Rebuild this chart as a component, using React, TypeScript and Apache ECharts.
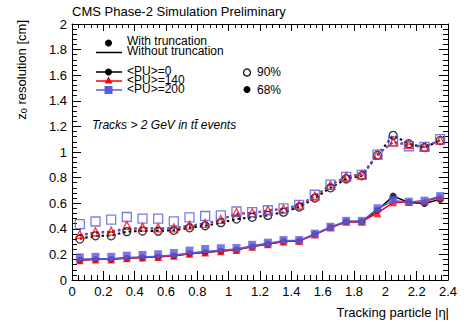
import React, { useEffect, useRef } from "react";
import * as echarts from "echarts";

// |eta| bin centres
const eta = [0.05, 0.15, 0.25, 0.35, 0.45, 0.55, 0.65, 0.75, 0.85, 0.95, 1.05, 1.15, 1.25, 1.35, 1.45, 1.55, 1.65, 1.75, 1.85, 1.95, 2.05, 2.15, 2.25, 2.35];

// With truncation (markers)
const pu0_90 = [0.32, 0.345, 0.345, 0.378, 0.383, 0.382, 0.388, 0.408, 0.424, 0.448, 0.476, 0.49, 0.505, 0.53, 0.57, 0.64, 0.72, 0.79, 0.815, 0.975, 1.13, 1.065, 1.035, 1.09];
const pu140_90 = [0.356, 0.377, 0.382, 0.427, 0.413, 0.408, 0.407, 0.428, 0.442, 0.473, 0.527, 0.526, 0.545, 0.555, 0.585, 0.655, 0.74, 0.81, 0.825, 0.98, 1.077, 1.06, 1.04, 1.092];
const pu200_90 = [0.437, 0.457, 0.472, 0.492, 0.48, 0.48, 0.458, 0.49, 0.5, 0.505, 0.535, 0.53, 0.545, 0.56, 0.587, 0.666, 0.745, 0.805, 0.822, 0.98, 1.085, 1.045, 1.04, 1.1];
const pu0_68 = [0.155, 0.16, 0.16, 0.17, 0.175, 0.18, 0.19, 0.205, 0.215, 0.225, 0.235, 0.26, 0.28, 0.3, 0.305, 0.355, 0.41, 0.455, 0.455, 0.545, 0.655, 0.605, 0.597, 0.63];
const pu140_68 = [0.155, 0.16, 0.16, 0.17, 0.175, 0.18, 0.19, 0.205, 0.215, 0.225, 0.235, 0.26, 0.28, 0.3, 0.305, 0.355, 0.41, 0.455, 0.455, 0.522, 0.607, 0.61, 0.615, 0.645];
const pu200_68 = [0.176, 0.181, 0.181, 0.19, 0.196, 0.201, 0.211, 0.23, 0.242, 0.248, 0.25, 0.275, 0.292, 0.312, 0.312, 0.362, 0.416, 0.462, 0.462, 0.56, 0.625, 0.612, 0.62, 0.655];

// Without truncation (lines)
const pu0_90_noTrunc = [0.322, 0.345, 0.347, 0.378, 0.383, 0.383, 0.388, 0.408, 0.424, 0.448, 0.476, 0.49, 0.505, 0.53, 0.57, 0.64, 0.72, 0.79, 0.815, 0.975, 1.13, 1.065, 1.035, 1.09];
const pu140_90_noTrunc = [0.352, 0.372, 0.378, 0.405, 0.405, 0.403, 0.404, 0.425, 0.44, 0.47, 0.52, 0.524, 0.543, 0.555, 0.585, 0.655, 0.74, 0.81, 0.825, 0.98, 1.077, 1.06, 1.04, 1.09];
const pu200_90_noTrunc = [0.345, 0.368, 0.372, 0.4, 0.402, 0.402, 0.403, 0.425, 0.44, 0.47, 0.515, 0.522, 0.542, 0.556, 0.585, 0.658, 0.742, 0.806, 0.822, 0.98, 1.08, 1.05, 1.04, 1.095];
const pu0_68_noTrunc = [0.157, 0.162, 0.162, 0.171, 0.176, 0.181, 0.19, 0.206, 0.216, 0.226, 0.237, 0.262, 0.282, 0.3, 0.306, 0.356, 0.41, 0.455, 0.456, 0.545, 0.655, 0.605, 0.597, 0.63];
const pu140_68_noTrunc = [0.157, 0.162, 0.162, 0.171, 0.176, 0.181, 0.19, 0.206, 0.216, 0.226, 0.237, 0.262, 0.282, 0.3, 0.306, 0.356, 0.41, 0.455, 0.456, 0.525, 0.605, 0.61, 0.615, 0.645];
const pu200_68_noTrunc = [0.162, 0.166, 0.166, 0.175, 0.18, 0.185, 0.195, 0.21, 0.222, 0.232, 0.242, 0.268, 0.288, 0.307, 0.31, 0.36, 0.414, 0.46, 0.46, 0.555, 0.62, 0.61, 0.62, 0.655];

// Legend labels
const truncLabels = ["With truncation", "Without truncation"];
const puLabels = ["<PU>=0", "<PU>=140", "<PU>=200"];
const quantileLabels = ["90%", "68%"];

const BLACK = "#000000";
const RED = "#ff0000";
const BLUE = "#5a5ade";
const FONT = "Liberation Sans";

const pts = (ys: number[]) => eta.map((x, i) => [x, ys[i]]);

function markerSeries(name: string, ys: number[], symbol: string, size: number, color: string, open: boolean, z: number) {
  return {
    name,
    type: "scatter",
    data: pts(ys),
    symbol,
    symbolSize: size,
    z,
    itemStyle: open
      ? { color: "rgba(0,0,0,0)", borderColor: color, borderWidth: 1.3 }
      : { color, borderWidth: 0 },
  };
}

function lineSeries(name: string, ys: number[], color: string, dotted: boolean, z: number) {
  return {
    name,
    type: "line",
    data: pts(ys),
    symbol: "none",
    z,
    lineStyle: dotted ? { color, width: 2, type: [2.5, 3] } : { color, width: 1.5, type: "solid" },
  };
}

function axisCommon(showLabel: boolean, major: number, minor: number) {
  return {
    axisLine: { show: true, onZero: false, lineStyle: { color: BLACK, width: 1 } },
    axisTick: { show: true, inside: true, length: major, lineStyle: { color: BLACK, width: 1 } },
    minorTick: { show: true, splitNumber: 5, length: minor, lineStyle: { color: BLACK, width: 1 } },
    splitLine: { show: false },
    minorSplitLine: { show: false },
    axisLabel: { show: showLabel, color: BLACK, fontSize: 13, fontFamily: FONT },
  };
}

const blockText = (x: number, y: number, lines: string[], lineHeight: number) => ({
  type: "text",
  x,
  y,
  style: { text: lines.join("\n"), font: `12px "${FONT}"`, fill: BLACK, verticalAlign: "middle", lineHeight },
});

export default function App() {
  const ref = useRef<HTMLDivElement>(null);
  useEffect(() => {
    if (!ref.current) return;
    const chart = echarts.init(ref.current, undefined, { renderer: "svg" });
    const xBase = { type: "value", min: 0, max: 2.4, interval: 0.2 };
    const yBase = { type: "value", min: 0, max: 2, interval: 0.2 };
    const bottomX: any = { ...xBase, position: "bottom", ...axisCommon(true, 9, 5) };
    bottomX.axisLabel = { ...bottomX.axisLabel, margin: 5 };
    const leftY: any = { ...yBase, position: "left", ...axisCommon(true, 9, 5) };
    leftY.axisLabel = { ...leftY.axisLabel, margin: 5 };
    const option: any = {
      animation: false,
      backgroundColor: "#ffffff",
      grid: { left: 72, top: 24, width: 376, height: 256, containLabel: false },
      xAxis: [bottomX, { ...xBase, position: "top", ...axisCommon(false, 7, 4) }],
      yAxis: [leftY, { ...yBase, position: "right", ...axisCommon(false, 9, 5) }],
      series: [
        lineSeries("PU0 90% no trunc", pu0_90_noTrunc, BLACK, true, 2),
        lineSeries("PU140 90% no trunc", pu140_90_noTrunc, RED, true, 2),
        lineSeries("PU200 90% no trunc", pu200_90_noTrunc, BLUE, true, 2),
        lineSeries("PU0 68% no trunc", pu0_68_noTrunc, BLACK, false, 2),
        lineSeries("PU140 68% no trunc", pu140_68_noTrunc, RED, false, 2),
        lineSeries("PU200 68% no trunc", pu200_68_noTrunc, BLUE, false, 2),
        markerSeries("PU0 90%", pu0_90, "circle", 8, BLACK, true, 3),
        markerSeries("PU140 90%", pu140_90, "triangle", 8, RED, true, 3),
        markerSeries("PU200 90%", pu200_90, "rect", 9, BLUE, true, 3),
        markerSeries("PU0 68%", pu0_68, "circle", 7, BLACK, false, 3),
        markerSeries("PU140 68%", pu140_68, "triangle", 8, RED, false, 3),
        markerSeries("PU200 68%", pu200_68, "rect", 8, BLUE, false, 3),
      ],
      graphic: [
        { type: "text", x: 72, y: 11, style: { text: "CMS Phase-2 Simulation Preliminary", font: `13px "${FONT}"`, fill: BLACK, verticalAlign: "middle" } },
        { type: "text", x: 449, y: 312, style: { text: "Tracking particle |η|", font: `13px "${FONT}"`, fill: BLACK, align: "right", verticalAlign: "middle" } },
        {
          type: "text", x: 21, y: 20, rotation: Math.PI / 2,
          style: {
            text: "{a|z}{s|0}{a| resolution [cm]}",
            align: "right", verticalAlign: "middle", fill: BLACK,
            rich: {
              a: { fontSize: 13, fontFamily: FONT, fill: BLACK, lineHeight: 16 },
              s: { fontSize: 9, fontFamily: FONT, fill: BLACK, padding: [6, 0, 0, 0], lineHeight: 16 },
            },
          },
        },
        // legend: truncation
        { type: "circle", shape: { cx: 108.5, cy: 43, r: 3.5 }, style: { fill: BLACK } },
        { type: "line", shape: { x1: 96, y1: 52.5, x2: 122, y2: 52.5 }, style: { stroke: BLACK, lineWidth: 1.5 } },
        blockText(127, 46, truncLabels, 10),
        // legend: PU
        { type: "line", shape: { x1: 96, y1: 72, x2: 122, y2: 72 }, style: { stroke: BLACK, lineWidth: 1.5 } },
        { type: "circle", shape: { cx: 108.5, cy: 72, r: 3.5 }, style: { fill: BLACK } },
        { type: "line", shape: { x1: 96, y1: 81, x2: 122, y2: 81 }, style: { stroke: RED, lineWidth: 1.5 } },
        { type: "polygon", shape: { points: [[108.5, 76.5], [112.5, 83.5], [104.5, 83.5]] }, style: { fill: RED } },
        { type: "line", shape: { x1: 96, y1: 90, x2: 122, y2: 90 }, style: { stroke: BLUE, lineWidth: 1.5 } },
        { type: "rect", shape: { x: 104.5, y: 86, width: 8, height: 8 }, style: { fill: BLUE } },
        blockText(127, 80.2, puLabels, 9.2),
        // legend: quantiles
        { type: "circle", shape: { cx: 247, cy: 72.5, r: 3.5 }, style: { fill: "rgba(0,0,0,0)", stroke: BLACK, lineWidth: 1.2 } },
        { type: "circle", shape: { cx: 247, cy: 89.5, r: 3.5 }, style: { fill: BLACK } },
        blockText(257, 72, [quantileLabels[0]], 12),
        blockText(257, 89.5, [quantileLabels[1]], 12),
        // selection label
        { type: "text", x: 92, y: 125, style: { text: "Tracks > 2 GeV in tt̄ events", font: `italic 12px "${FONT}"`, fill: BLACK, verticalAlign: "middle" } },
      ],
    };
    chart.setOption(option);
    return () => chart.dispose();
  }, []);
  return <div ref={ref} style={{ width: 467, height: 327, position: "absolute", left: 0, top: 0 }} />;
}
